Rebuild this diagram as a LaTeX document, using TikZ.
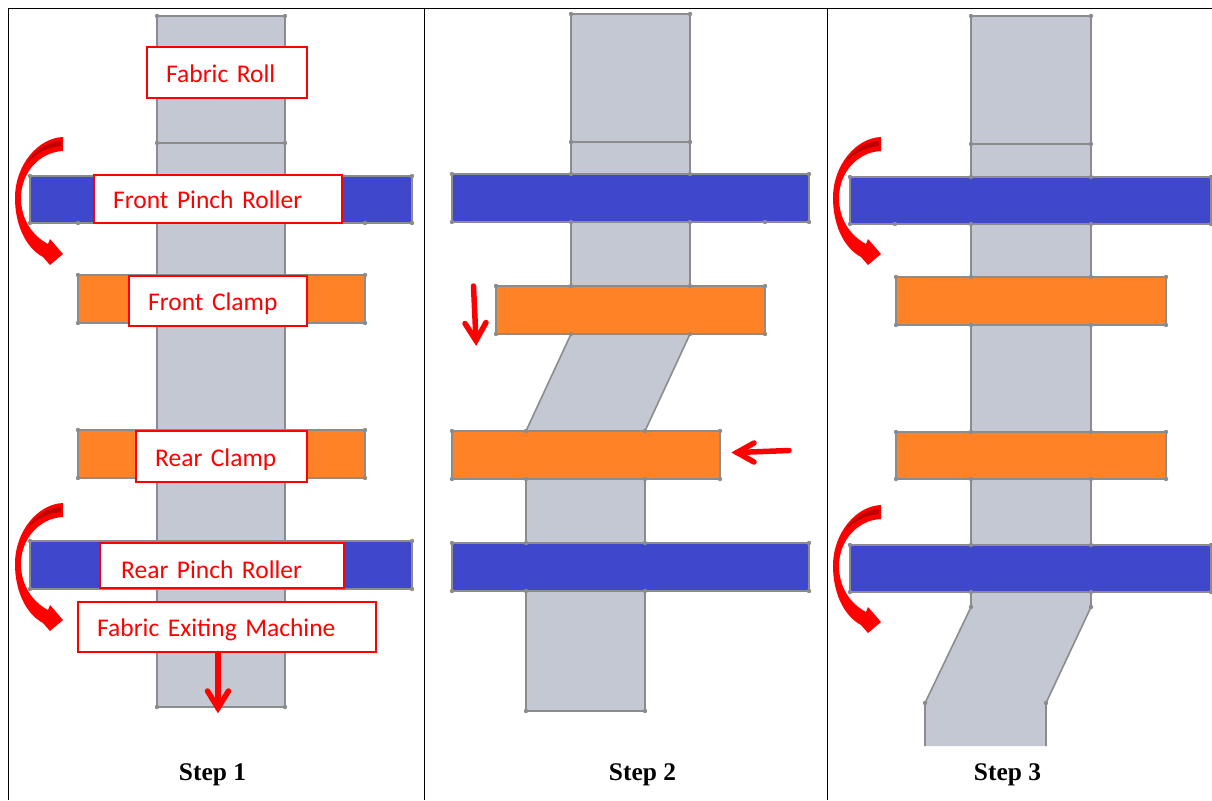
\documentclass[tikz,border=0pt]{standalone}
\usepackage{fontspec}
\setmainfont{Liberation Serif}
\newfontfamily\labelfont{Carlito}
\definecolor{fabricc}{HTML}{C3C8D3}
\definecolor{rollerc}{HTML}{3F48CC}
\definecolor{clampc}{HTML}{FF8226}
\definecolor{edgec}{HTML}{8C8C8C}
\definecolor{arrowdark}{HTML}{C00000}
\tikzset{
  fabricpart/.style={fill=fabricc,draw=edgec,line width=1.6pt,line join=round},
  rollerbar/.style={fill=rollerc,draw=edgec,line width=2pt},
  clampbar/.style={fill=clampc,draw=edgec,line width=2pt},
  vertexdot/.style={fill=edgec,draw=none},
  frameline/.style={draw=black,line width=1pt},
  labelbox/.style={draw=red,fill=white,line width=2.4pt,align=left,anchor=north west,
     inner ysep=0pt,text depth=5pt,font=\labelfont\fontsize{25.5}{27}\selectfont,text=red},
  steplabel/.style={font=\bfseries\fontsize{25.4}{27}\selectfont,text=black},
  straightarrow/.style={draw=red,line width=5.5pt,line cap=round,line join=miter},
  turnarrow/.pic={
    \fill[red] (63,137) .. controls (38,138) and (15,165) .. (15,198)
      .. controls (15,225) and (26,248) .. (43,257) -- (50,265) -- (63,254) -- (50,239) -- (48,244)
      .. controls (33,236) and (21,220) .. (21,198) .. controls (21,172) and (40,152) .. (63,151) -- cycle;
    \fill[arrowdark] (61,141) .. controls (46,142) and (33,152) .. (27,163)
      .. controls (36,153) and (48,147) .. (61,146) -- cycle;
  }
}
\newcommand{\cornerdots}[1]{\foreach \px/\py in {#1} \fill[vertexdot] (\px,\py) circle (2.2pt);}
\begin{document}
\begin{tikzpicture}[x=1pt,y=-1pt]
\useasboundingbox (0,0) rectangle (1212,800);
% frame
\coordinate (ftl) at (8,9); \coordinate (ftr) at (1212,9);
\coordinate (fbl) at (8,800);
\coordinate (d1t) at (424,9); \coordinate (d1b) at (424,800);
\coordinate (d2t) at (827,9); \coordinate (d2b) at (827,800);
\draw[frameline] (fbl) -- (ftl) -- (ftr);
\draw[frameline] (d1t) -- (d1b);
\draw[frameline] (d2t) -- (d2b);

% ---------- Step 1
\draw[fabricpart] (157,16) rectangle (285,707);
\draw[fabricpart] (157,143) -- (285,143);
\cornerdots{157/16,285/16,157/143,285/143,157/707,285/707}
\draw[rollerbar] (30,176) rectangle (412,223);
\draw[clampbar] (78,275) rectangle (365,323);
\draw[clampbar] (78,430) rectangle (365,478);
\draw[rollerbar] (30,541) rectangle (412,589);
\cornerdots{30/176,412/176,30/223,78/223,365/223,412/223,78/275,365/275,78/323,365/323,78/430,365/430,78/478,365/478,30/541,412/541,30/589,412/589}
\pic at (0,0) {turnarrow};
\pic at (0,366) {turnarrow};
\node[labelbox,text width=122pt,inner xsep=19pt,minimum height=51pt,text height=24pt] (fabricroll) at (146,46) {Fabric Roll};
\node[labelbox,text width=210pt,inner xsep=19pt,minimum height=48pt,text height=23pt] (frontpinch) at (93,174) {Front Pinch Roller};
\node[labelbox,text width=140pt,inner xsep=19pt,minimum height=50pt,text height=23pt] (frontclamp) at (128,275) {Front Clamp};
\node[labelbox,text width=133pt,inner xsep=19pt,minimum height=51pt,text height=24pt] (rearclamp) at (135,430) {Rear Clamp};
\node[labelbox,text width=202pt,inner xsep=21pt,minimum height=45pt,text height=30pt] (rearpinch) at (99,542) {Rear Pinch Roller};
\node[labelbox,text width=260pt,inner xsep=19pt,minimum height=50pt,text height=23pt] (exiting) at (77,601) {Fabric Exiting Machine};
\coordinate (exittip) at (218,708);
\coordinate (exitbl) at (207.5,691);
\coordinate (exitbr) at (228.5,691);
\draw[straightarrow] (exiting.south -| exittip) -- (exittip);
\draw[straightarrow] (exitbl) -- (exittip) -- (exitbr);
\node[steplabel] (step1) at (212.5,774.5) {Step 1};

% ---------- Step 2
\draw[fabricpart] (571,14) -- (690,14) -- (690,334) -- (645,431) -- (645,711) -- (526,711) -- (526,431) -- (571,334) -- cycle;
\draw[fabricpart] (571,142) -- (690,142);
\cornerdots{571/14,690/14,571/142,690/142,526/711,645/711}
\draw[rollerbar] (452,174) rectangle (809,222);
\draw[clampbar] (496,286) rectangle (765,334);
\draw[clampbar] (452,431) rectangle (720,479);
\draw[rollerbar] (452,543) rectangle (809,591);
\cornerdots{452/174,571/174,690/174,809/174,452/222,571/222,690/222,765/222,809/222,496/286,571/286,690/286,765/286,496/334,571/334,690/334,765/334,452/431,526/431,645/431,720/431,452/479,526/479,645/479,720/479,452/543,526/543,645/543,809/543,452/591,526/591,645/591,809/591}
\coordinate (dnstart) at (473.5,286);
\coordinate (dntip) at (476,340.5);
\coordinate (dnbl) at (465,323.5);
\coordinate (dnbr) at (486,322.5);
\draw[straightarrow] (dnstart) -- (dntip);
\draw[straightarrow] (dnbl) -- (dntip) -- (dnbr);
\coordinate (lfstart) at (789,450.5);
\coordinate (lftip) at (737,452.5);
\coordinate (lfbt) at (754,443);
\coordinate (lfbb) at (754,462);
\draw[straightarrow] (lfstart) -- (lftip);
\draw[straightarrow] (lfbt) -- (lftip) -- (lfbb);
\node[steplabel] (step2) at (642.5,774.5) {Step 2};

% ---------- Step 3
\fill[fabricc] (971,16) -- (1091,16) -- (1091,607) -- (1046,703) -- (1046,746) -- (925,746) -- (925,703) -- (971,607) -- cycle;
\draw[fabricpart,fill=none] (925,746) -- (925,703) -- (971,607) -- (971,16) -- (1091,16) -- (1091,607) -- (1046,703) -- (1046,746);
\draw[fabricpart] (971,144) -- (1091,144);
\cornerdots{971/16,1091/16,971/144,1091/144,971/607,1091/607,925/703,1046/703}
\draw[rollerbar] (850,177) rectangle (1211,224);
\draw[clampbar] (896,277) rectangle (1166,325);
\draw[clampbar] (896,432) rectangle (1166,479);
\draw[rollerbar] (850,545) rectangle (1211,592);
\cornerdots{850/177,971/177,1091/177,1211/177,850/224,895/224,971/224,1091/224,1211/224,896/277,971/277,1091/277,1166/277,896/325,971/325,1091/325,1166/325,896/432,971/432,1091/432,1166/432,896/479,971/479,1091/479,1166/479,850/545,971/545,1091/545,1211/545,850/592,971/592,1091/592,1211/592}
\pic at (818,0) {turnarrow};
\pic at (818,368) {turnarrow};
\node[steplabel] (step3) at (1007.5,774.5) {Step 3};
\end{tikzpicture}
\end{document}
